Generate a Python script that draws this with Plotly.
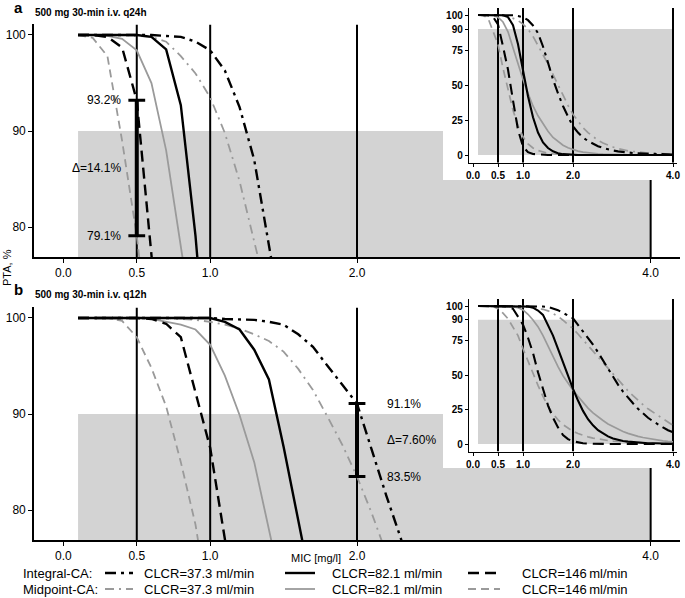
import plotly.graph_objects as go

# ---------------- data ----------------
MIC = [0.1, 0.2, 0.3, 0.4, 0.5, 0.6, 0.7, 0.8, 0.9, 1.0,
       1.1, 1.2, 1.3, 1.4, 1.5, 1.6, 1.7, 1.8, 1.9, 2.0,
       2.1, 2.2, 2.3, 2.4, 2.5, 2.6, 2.7, 2.8, 2.9, 3.0,
       3.1, 3.2, 3.3, 3.4, 3.5, 3.6, 3.7, 3.8, 3.9, 4.0]

# panel a: 500 mg 30-min i.v. q24h
q24_integral_373 = [100, 100, 100, 100, 100, 100, 99.9, 99.8, 99.3, 98.4,
                    96.3, 92.5, 87.0, 77.5, 66.0, 54.0, 44.0, 35.0, 27.5, 20.5,
                    16.0, 12.5, 10.0, 8.0, 6.3, 5.0, 4.0, 3.2, 2.6, 2.1,
                    1.7, 1.4, 1.2, 1.0, 0.85, 0.7, 0.6, 0.5, 0.4, 0.3]
q24_midpoint_373 = [100, 100, 100, 100, 99.9, 99.8, 99.3, 97.8, 96.0, 93.5,
                    89.8, 84.8, 78.5, 72.0, 65.0, 57.5, 50.0, 42.5, 35.5, 29.0,
                    24.0, 19.5, 16.0, 13.0, 10.5, 8.5, 7.0, 5.7, 4.6, 3.7,
                    3.0, 2.5, 2.0, 1.7, 1.4, 1.2, 1.0, 0.85, 0.7, 0.6]
q24_integral_821 = [100, 100, 100, 100, 100, 99.8, 98.5, 92.7, 79.1, 61.0,
                    42.0, 27.0, 16.0, 9.0, 5.0, 2.6, 1.3, 0.6, 0.3, 0.1,
                    0, 0, 0, 0, 0, 0, 0, 0, 0, 0,
                    0, 0, 0, 0, 0, 0, 0, 0, 0, 0]
q24_midpoint_821 = [100, 100, 99.9, 99.6, 98.4, 95.0, 88.0, 76.5, 65.0, 54.0,
                    44.0, 35.0, 28.0, 22.0, 17.0, 12.5, 9.5, 7.0, 5.2, 3.8,
                    2.8, 2.1, 1.6, 1.2, 0.9, 0.7, 0.5, 0.4, 0.3, 0.2,
                    0.15, 0.1, 0.1, 0.05, 0.05, 0, 0, 0, 0, 0]
q24_integral_146 = [100, 100, 99.8, 98.7, 93.2, 77.5, 61.0, 39.0, 18.0, 6.0,
                    2.0, 0.7, 0.3, 0.1, 0, 0, 0, 0, 0, 0,
                    0, 0, 0, 0, 0, 0, 0, 0, 0, 0,
                    0, 0, 0, 0, 0, 0, 0, 0, 0, 0]
q24_midpoint_146 = [100, 99.7, 97.8, 89.0, 79.1, 62.0, 46.0, 32.0, 21.0, 13.0,
                    8.0, 5.0, 3.2, 2.0, 1.3, 0.9, 0.6, 0.4, 0.3, 0.2,
                    0.1, 0, 0, 0, 0, 0, 0, 0, 0, 0,
                    0, 0, 0, 0, 0, 0, 0, 0, 0, 0]

# panel b: 500 mg 30-min i.v. q12h
q12_integral_373 = [100, 100, 100, 100, 100, 100, 100, 100, 100, 100,
                    99.9, 99.85, 99.8, 99.6, 99.3, 98.3, 97.0, 95.0, 93.0, 91.1,
                    86.3, 81.5, 77.0, 72.0, 66.5, 60.5, 54.5, 48.5, 43.0, 38.0,
                    33.5, 29.5, 25.5, 22.0, 19.0, 16.5, 14.0, 12.0, 10.0, 8.5]
q12_midpoint_373 = [100, 100, 100, 100, 100, 100, 100, 99.9, 99.8, 99.6,
                    99.3, 98.9, 98.3, 97.6, 96.5, 94.7, 92.5, 89.7, 86.8, 83.5,
                    79.7, 75.5, 71.5, 67.5, 63.5, 59.5, 55.0, 51.0, 46.5, 42.5,
                    38.5, 35.0, 31.5, 28.5, 25.5, 23.0, 20.5, 18.0, 15.5, 13.5]
q12_integral_821 = [100, 100, 100, 100, 100, 100, 100, 100, 100, 100,
                    99.6, 98.8, 96.7, 93.6, 86.6, 78.5, 69.0, 59.0, 49.0, 40.0,
                    31.5, 24.0, 18.0, 13.5, 10.0, 7.5, 5.5, 4.0, 3.0, 2.2,
                    1.7, 1.3, 1.0, 0.8, 0.6, 0.5, 0.4, 0.3, 0.25, 0.2]
q12_midpoint_821 = [100, 100, 100, 100, 100, 99.9, 99.6, 99.3, 98.8, 97.2,
                    94.0, 89.9, 85.0, 78.5, 71.0, 63.0, 56.0, 49.5, 44.0, 39.0,
                    34.5, 30.0, 26.0, 22.5, 19.5, 17.0, 14.5, 12.5, 10.5, 9.0,
                    7.7, 6.5, 5.5, 4.7, 4.0, 3.3, 2.8, 2.3, 1.9, 1.6]
q12_integral_146 = [100, 100, 100, 100, 100, 99.9, 99.4, 98.0, 92.3, 86.5,
                    77.0, 66.0, 52.0, 39.0, 28.0, 19.0, 12.0, 6.5, 3.5, 2.0,
                    1.0, 0.5, 0.3, 0.1, 0, 0, 0, 0, 0, 0,
                    0, 0, 0, 0, 0, 0, 0, 0, 0, 0]
q12_midpoint_146 = [100, 100, 100, 99.7, 98.0, 94.8, 90.8, 85.0, 78.5, 69.0,
                    60.0, 51.0, 42.5, 34.5, 27.5, 22.0, 17.5, 14.0, 11.3, 9.2,
                    7.6, 6.3, 5.2, 4.3, 3.6, 3.0, 2.5, 2.1, 1.8, 1.5,
                    1.3, 1.1, 0.95, 0.8, 0.7, 0.6, 0.5, 0.45, 0.4, 0.35]

CUTOFFS = [0.5, 1.0, 2.0, 4.0]
X_TICKS = [0.0, 0.5, 1.0, 2.0, 4.0]
X_TICK_LABELS = ["0.0", "0.5", "1.0", "2.0", "4.0"]
MAIN_Y_TICKS = [80, 90, 100]
INSET_Y_TICKS = [0, 25, 50, 75, 90, 100]
TARGET_PTA = 90
TARGET_MIC_START = 0.1

q24_delta_mic = 0.5
q24_delta_pta = [79.1, 93.2]
q24_delta_text = ["79.1%", "Δ=14.1%", "93.2%"]
q12_delta_mic = 2.0
q12_delta_pta = [83.5, 91.1]
q12_delta_text = ["83.5%", "Δ=7.60%", "91.1%"]

PANEL_TITLES = ["500 mg 30-min i.v. q24h", "500 mg 30-min i.v. q12h"]
PANEL_LETTERS = ["a", "b"]
LEGEND_ROWS = ["Integral-CA:", "Midpoint-CA:"]
LEGEND_CLCR = ["CLCR=37.3 ml/min", "CLCR=82.1 ml/min", "CLCR=146\u2009ml/min"]

# ---------------- styling ----------------
W, H = 685, 598
FONT = "Liberation Sans, Arial, Helvetica, sans-serif"
BLACK = "#000000"
GREY = "#9a9a9a"
SHADE = "#d3d3d3"

DASH = {
    "Integral": ["11px,5px,3px,5px", "solid", "11px,6px"],
    "Midpoint": ["9px,5px,2px,5px", "solid", "8px,5px"],
}
COLOR = {"Integral": BLACK, "Midpoint": GREY}


def fx(p):
    return p / W


def fy(p):
    return 1 - p / H


panels = [
    {
        "series": [("Midpoint", 0, q24_midpoint_373), ("Midpoint", 1, q24_midpoint_821),
                   ("Midpoint", 2, q24_midpoint_146), ("Integral", 0, q24_integral_373),
                   ("Integral", 1, q24_integral_821), ("Integral", 2, q24_integral_146)],
        "main": ("x", "y"), "cover": ("x2", "y2"), "inset": ("x3", "y3"),
        "delta": (q24_delta_mic, q24_delta_pta, q24_delta_text, "left"),
    },
    {
        "series": [("Midpoint", 0, q12_midpoint_373), ("Midpoint", 1, q12_midpoint_821),
                   ("Midpoint", 2, q12_midpoint_146), ("Integral", 0, q12_integral_373),
                   ("Integral", 1, q12_integral_821), ("Integral", 2, q12_integral_146)],
        "main": ("x4", "y4"), "cover": ("x5", "y5"), "inset": ("x6", "y6"),
        "delta": (q12_delta_mic, q12_delta_pta, q12_delta_text, "right"),
    },
]

MAIN_YR = [76.9, 101.1]
INSET_YR = [-5.5, 105]
MAIN_XR = [-0.2, 4.2]
INSET_XR = [-0.08, 4.08]

fig = go.Figure()
shapes = []
annotations = []

for p in panels:
    # ---- main panel ----
    xa, ya = p["main"]
    shapes.append(dict(type="rect", xref=xa, yref=ya, x0=TARGET_MIC_START, x1=CUTOFFS[-1],
                       y0=MAIN_YR[0], y1=TARGET_PTA, fillcolor=SHADE, line_width=0, layer="below"))
    for c in CUTOFFS:
        fig.add_trace(go.Scatter(x=[c, c], y=MAIN_YR, mode="lines", xaxis=xa, yaxis=ya,
                                 line=dict(color=BLACK, width=2), showlegend=False, hoverinfo="skip"))
    for method, k, vals in p["series"]:
        fig.add_trace(go.Scatter(x=MIC, y=vals, mode="lines", xaxis=xa, yaxis=ya,
                                 line=dict(color=COLOR[method], dash=DASH[method][k],
                                           width=2.4 if method == "Integral" else 1.8),
                                 showlegend=False))
    dm, dp, dt, side = p["delta"]
    fig.add_trace(go.Scatter(x=[dm, dm], y=dp, mode="lines+markers", xaxis=xa, yaxis=ya,
                             line=dict(color=BLACK, width=4),
                             marker=dict(symbol="line-ew", size=12, color=BLACK,
                                         line=dict(width=3, color=BLACK)),
                             showlegend=False, hoverinfo="skip"))
    ys = [dp[0], (dp[0] + dp[1]) / 2, dp[1]]
    for yv, t in zip(ys, dt):
        annotations.append(dict(x=dm, y=yv, xref=xa, yref=ya, text=t, showarrow=False,
                                xanchor="right" if side == "left" else "left",
                                xshift=-14 if side == "left" else 28,
                                font=dict(size=12, color=BLACK, family=FONT)))

    # ---- white cover behind the inset ----
    cx, cy = p["cover"]
    fig.add_trace(go.Scatter(x=[None], y=[None], xaxis=cx, yaxis=cy, mode="lines",
                             showlegend=False, hoverinfo="skip"))

    # ---- inset ----
    ix, iy = p["inset"]
    shapes.append(dict(type="rect", xref=ix, yref=iy, x0=TARGET_MIC_START, x1=CUTOFFS[-1],
                       y0=0, y1=TARGET_PTA, fillcolor=SHADE, line_width=0, layer="below"))
    for c in CUTOFFS:
        fig.add_trace(go.Scatter(x=[c, c], y=INSET_YR, mode="lines", xaxis=ix, yaxis=iy,
                                 line=dict(color=BLACK, width=2), showlegend=False, hoverinfo="skip"))
    for method, k, vals in p["series"]:
        fig.add_trace(go.Scatter(x=MIC, y=vals, mode="lines", xaxis=ix, yaxis=iy,
                                 line=dict(color=COLOR[method], dash=DASH[method][k],
                                           width=2.1 if method == "Integral" else 1.7),
                                 showlegend=False))

main_tick_font = dict(size=12, color=BLACK, family=FONT)
inset_tick_font = dict(size=10, color=BLACK, family=FONT, weight="bold")
common = dict(showgrid=False, zeroline=False, showline=True, linecolor=BLACK,
              ticks="outside", tickcolor=BLACK, tickwidth=1.2)


def main_x(anchor):
    return dict(domain=[fx(34), fx(680)], range=MAIN_XR, anchor=anchor, tickvals=X_TICKS,
                ticktext=X_TICK_LABELS, linewidth=1.6, ticklen=4, tickfont=main_tick_font, **common)


def main_y(anchor, top, bottom):
    return dict(domain=[fy(bottom), fy(top)], range=MAIN_YR, anchor=anchor, tickvals=MAIN_Y_TICKS,
                linewidth=1.6, ticklen=4, tickfont=main_tick_font, **common)


def inset_x(anchor):
    return dict(domain=[fx(469), fx(677)], range=INSET_XR, anchor=anchor, tickvals=X_TICKS,
                ticktext=X_TICK_LABELS, linewidth=1.4, ticklen=3, tickfont=inset_tick_font, **common)


def inset_y(anchor, top, bottom):
    return dict(domain=[fy(bottom), fy(top)], range=INSET_YR, anchor=anchor, tickvals=INSET_Y_TICKS,
                linewidth=1.4, ticklen=3, tickfont=inset_tick_font, **common)


def cover(anchor, dom):
    return dict(domain=dom, range=[0, 1], anchor=anchor, visible=False, showgrid=False, zeroline=False)


# panel letters / titles
for letter, title, ly, ty in zip(PANEL_LETTERS, PANEL_TITLES, [8, 289], [13, 294]):
    annotations.append(dict(x=fx(18), y=fy(ly), xref="paper", yref="paper", text="<b>%s</b>" % letter,
                            showarrow=False, xanchor="center", yanchor="middle",
                            font=dict(size=15, color=BLACK, family=FONT)))
    annotations.append(dict(x=fx(33), y=fy(ty), xref="paper", yref="paper", text="<b>%s</b>" % title,
                            showarrow=False, xanchor="left", yanchor="middle",
                            font=dict(size=10, color=BLACK, family=FONT)))

annotations.append(dict(x=fx(7), y=fy(268), xref="paper", yref="paper", text="PTA, %",
                        textangle=-90, showarrow=False, xanchor="center", yanchor="middle",
                        font=dict(size=11, color=BLACK, family=FONT)))
annotations.append(dict(x=fx(316), y=fy(558), xref="paper", yref="paper", text="MIC [mg/l]",
                        showarrow=False, xanchor="center", yanchor="middle",
                        font=dict(size=11, color=BLACK, family=FONT)))

# manual legend
row_y = [573, 589]
sample_x = [(105, 133), (285, 315), (468, 500)]
text_x = [142, 330, 520]
for r, (method, row_label) in enumerate(zip(["Integral", "Midpoint"], LEGEND_ROWS)):
    annotations.append(dict(x=fx(21), y=fy(row_y[r]), xref="paper", yref="paper", text=row_label,
                            showarrow=False, xanchor="left", yanchor="middle",
                            font=dict(size=13, color=BLACK, family=FONT)))
    for k, lab in enumerate(LEGEND_CLCR):
        shapes.append(dict(type="line", xref="paper", yref="paper",
                           x0=fx(sample_x[k][0]), x1=fx(sample_x[k][1]),
                           y0=fy(row_y[r]), y1=fy(row_y[r]),
                           line=dict(color=COLOR[method], dash=DASH[method][k],
                                     width=2.4 if method == "Integral" else 1.8)))
        annotations.append(dict(x=fx(text_x[k]), y=fy(row_y[r]), xref="paper", yref="paper", text=lab,
                                showarrow=False, xanchor="left", yanchor="middle",
                                font=dict(size=13, color=BLACK, family=FONT)))

fig.update_layout(
    width=W, height=H, margin=dict(l=0, r=0, t=0, b=0),
    template="none", paper_bgcolor="white", plot_bgcolor="white",
    font=dict(family=FONT, color=BLACK),
    showlegend=False,
    xaxis=main_x("y"), yaxis=main_y("x", 24.4, 257),
    xaxis2=cover("y2", [fx(443), 1]), yaxis2=cover("x2", [fy(180), 1]),
    xaxis3=inset_x("y3"), yaxis3=inset_y("x3", 8, 162.7),
    xaxis4=main_x("y4"), yaxis4=main_y("x4", 307.4, 540),
    xaxis5=cover("y5", [fx(443), 1]), yaxis5=cover("x5", [fy(468), fy(283)]),
    xaxis6=inset_x("y6"), yaxis6=inset_y("x6", 299.1, 451.6),
    shapes=shapes, annotations=annotations,
)

fig.write_html("out.html", config={"displayModeBar": False},
               post_script="document.body.style.margin='0';document.body.style.overflow='hidden';")
